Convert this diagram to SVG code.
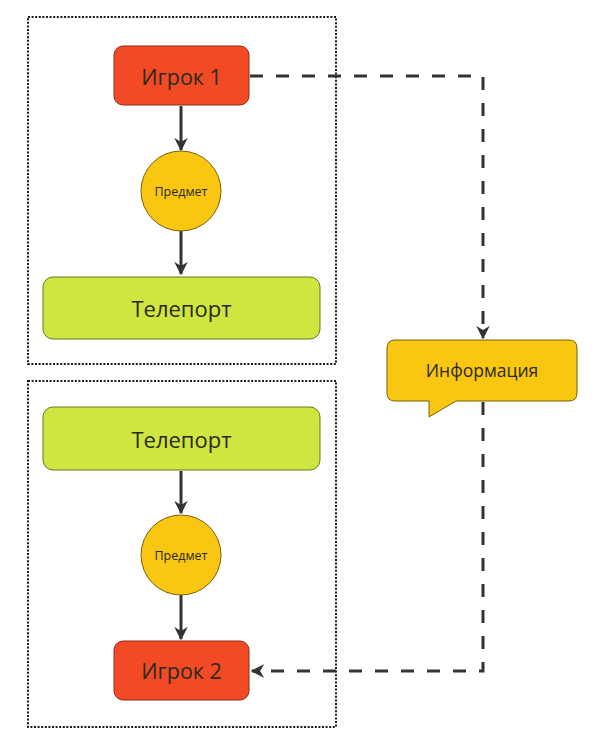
<svg xmlns="http://www.w3.org/2000/svg" width="596" height="747" viewBox="0 0 596 747">
<defs>
<style>
.frame{fill:none;stroke:#1a1a1a;stroke-width:2;stroke-dasharray:2 1.6}
.red{fill:#f24a25;stroke:#8f2a14;stroke-width:1}
.yel{fill:#f9c611;stroke:#7a5f08;stroke-width:1}
.grn{fill:#cfe540;stroke:#6a7a1a;stroke-width:1}
.t{font-family:"Open Sans","Liberation Sans",sans-serif;fill:#2a2a1a;text-anchor:middle;dominant-baseline:central}
.solid{fill:none;stroke:#333;stroke-width:3}
.dash{fill:none;stroke:#333;stroke-width:3;stroke-dasharray:13 13}
</style>
<marker id="ah" viewBox="0 0 10 10" refX="9" refY="5" markerWidth="4.5" markerHeight="4.5" orient="auto" markerUnits="strokeWidth">
<path d="M0,0 L10,5 L0,10 L3,5 Z" fill="#333"/>
</marker>
</defs>
<rect class="frame" x="28" y="17" width="308" height="347"/>
<rect class="frame" x="28" y="381" width="308" height="346"/>
<g id="connectors">
<line class="solid" x1="181" y1="106" x2="181" y2="150" marker-end="url(#ah)"/>
<line class="solid" x1="181" y1="230" x2="181" y2="274" marker-end="url(#ah)"/>
<line class="solid" x1="181" y1="471" x2="181" y2="513" marker-end="url(#ah)"/>
<line class="solid" x1="181" y1="595" x2="181" y2="639" marker-end="url(#ah)"/>
<path class="dash" d="M250,76 H483 V338" marker-end="url(#ah)"/>
<path class="dash" d="M483,402 V671 H252" marker-end="url(#ah)"/>
</g>
<g id="player1">
<rect class="red" x="114" y="46" width="135" height="59" rx="9"/>
<text class="t" x="181.5" y="76" font-size="21.5">Игрок 1</text>
</g>
<g id="item1">
<circle class="yel" cx="181" cy="191" r="40"/>
<text class="t" x="181" y="191" font-size="12.5">Предмет</text>
</g>
<g id="teleport1">
<rect class="grn" x="43" y="277" width="277" height="62" rx="10"/>
<text class="t" x="181.5" y="308" font-size="22">Телепорт</text>
</g>
<g id="teleport2">
<rect class="grn" x="43" y="407" width="277" height="63" rx="10"/>
<text class="t" x="181.5" y="439" font-size="22">Телепорт</text>
</g>
<g id="item2">
<circle class="yel" cx="181" cy="555" r="40"/>
<text class="t" x="181" y="555" font-size="12.5">Предмет</text>
</g>
<g id="player2">
<rect class="red" x="114" y="641" width="135" height="59" rx="9"/>
<text class="t" x="181.5" y="670" font-size="21.5">Игрок 2</text>
</g>
<g id="info">
<path class="yel" d="M395,340 H569 Q577,340 577,348 V393 Q577,401 569,401 H456 L429,417 V401 H395 Q387,401 387,393 V348 Q387,340 395,340 Z"/>
<text class="t" x="482" y="370" font-size="17.5">Информация</text>
</g>
</svg>
